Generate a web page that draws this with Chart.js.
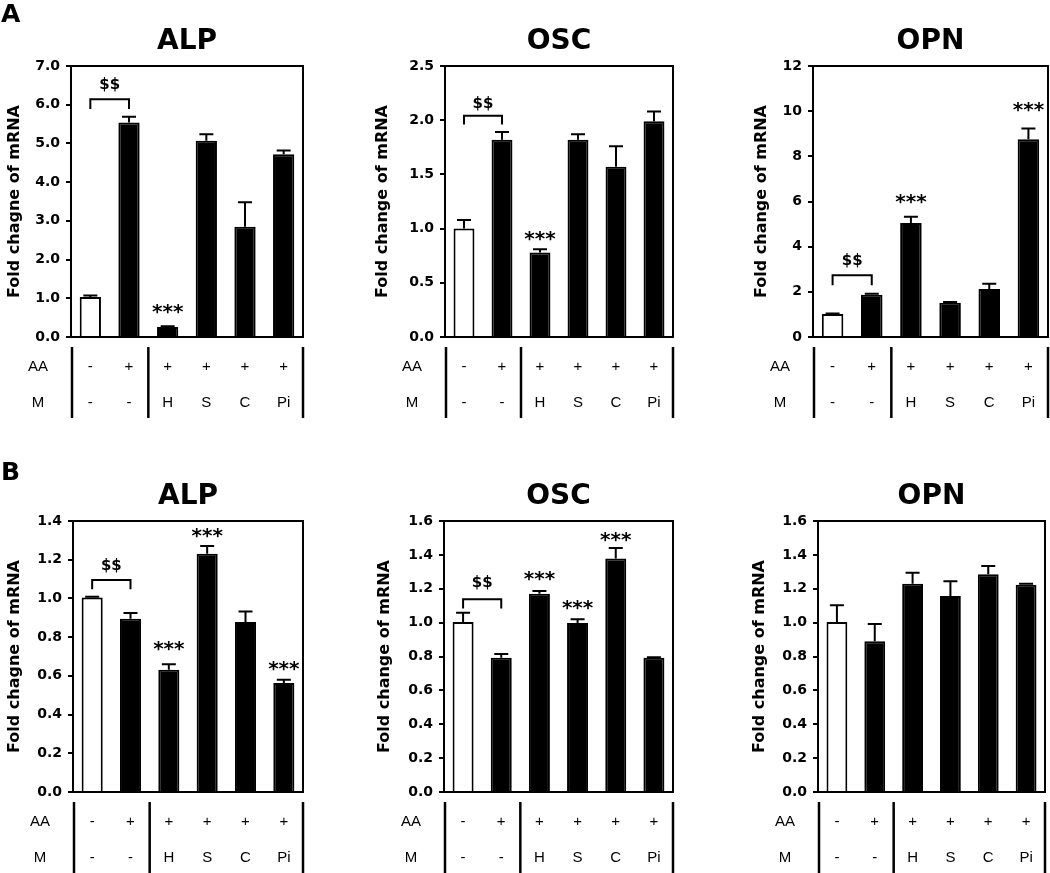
<!DOCTYPE html>
<html><head><meta charset="utf-8">
<script src="https://cdn.jsdelivr.net/npm/chart.js@4"></script>
<style>
html,body{margin:0;padding:0;background:#fff;}
body{width:1050px;height:873px;position:relative;overflow:hidden;}
canvas{position:absolute;}
</style></head>
<body>
<script>
// ---------- data ----------
const categories = ['Ctrl', 'AA', 'AA+H', 'AA+S', 'AA+C', 'AA+Pi'];
const aaLabels = ['-', '+', '+', '+', '+', '+'];
const mLabels = ['-', '-', 'H', 'S', 'C', 'Pi'];
const rowNames = ['AA', 'M'];
const panelLetters = ['A', 'B'];
const geneTitles = ['ALP', 'OSC', 'OPN'];
const yTitleALP = 'Fold chagne of mRNA';
const yTitleOther = 'Fold change of mRNA';

// Panel A
const alpA = [1.03, 5.54, 0.26, 5.07, 2.85, 4.72];
const alpAErr = [0.04, 0.15, 0.02, 0.17, 0.63, 0.10];
const oscA = [1.00, 1.82, 0.78, 1.82, 1.57, 1.99];
const oscAErr = [0.08, 0.07, 0.03, 0.05, 0.19, 0.09];
const opnA = [1.02, 1.87, 5.05, 1.52, 2.12, 8.76];
const opnAErr = [0.02, 0.04, 0.28, 0.03, 0.24, 0.47];
// Panel B
const alpB = [1.005, 0.895, 0.632, 1.231, 0.878, 0.563];
const alpBErr = [0.004, 0.030, 0.028, 0.040, 0.055, 0.017];
const oscB = [1.004, 0.793, 1.171, 0.998, 1.378, 0.793];
const oscBErr = [0.055, 0.022, 0.016, 0.022, 0.063, 0.003];
const opnB = [1.004, 0.890, 1.230, 1.157, 1.285, 1.224];
const opnBErr = [0.098, 0.102, 0.065, 0.087, 0.050, 0.005];

// axis ranges [max, step, decimals]
const axisA = [[7, 1, 1], [2.5, 0.5, 1], [12, 2, 0]];
const axisB = [[1.4, 0.2, 1], [1.6, 0.2, 1], [1.6, 0.2, 1]];

// $$ brackets: [bracket level, leg bottom, label centre] in data units (between bars 0 and 1)
const bracketsA = [[6.14, 5.89, 6.53], [2.04, 1.96, 2.16], [2.73, 2.29, 3.43]];
const bracketsB = [[1.095, 1.047, 1.172], [1.138, 1.084, 1.241], null];
// *** marks: [bar index, centre value]
const starsA = [[[2, 0.69]], [[2, 0.916]], [[2, 6.04], [5, 10.13]]];
const starsB = [[[2, 0.747], [3, 1.331], [5, 0.644]], [[2, 1.265], [3, 1.098], [4, 1.494]], []];

// ---------- layout (pixels) ----------
const panels = [
  {x:0,   y:0,   w:350, h:440, L:71,  R:303, T:66, B:337, yOff:56, row:0, col:0, values:alpA, errs:alpAErr, axis:axisA[0], br:bracketsA[0], stars:starsA[0], yt:yTitleALP},
  {x:350, y:0,   w:350, h:440, L:95,  R:323, T:66, B:337, yOff:62, row:0, col:1, values:oscA, errs:oscAErr, axis:axisA[1], br:bracketsA[1], stars:starsA[1], yt:yTitleOther},
  {x:700, y:0,   w:350, h:440, L:113, R:348, T:66, B:337, yOff:51, row:0, col:2, values:opnA, errs:opnAErr, axis:axisA[2], br:bracketsA[2], stars:starsA[2], yt:yTitleOther},
  {x:0,   y:440, w:350, h:433, L:73,  R:303, T:81, B:352, yOff:58, row:1, col:0, values:alpB, errs:alpBErr, axis:axisB[0], br:bracketsB[0], stars:starsB[0], yt:yTitleALP},
  {x:350, y:440, w:350, h:433, L:94,  R:323, T:81, B:352, yOff:59, row:1, col:1, values:oscB, errs:oscBErr, axis:axisB[1], br:bracketsB[1], stars:starsB[1], yt:yTitleOther},
  {x:700, y:440, w:350, h:433, L:118, R:345, T:81, B:352, yOff:58, row:1, col:2, values:opnB, errs:opnBErr, axis:axisB[2], br:bracketsB[2], stars:starsB[2], yt:yTitleOther}
];

const BOLD = '"DejaVu Sans", sans-serif';
const REG = '"Liberation Sans", Arial, sans-serif';

function makePlugin(p) {
  return {
    id: 'figDecor',
    afterDatasetsDraw(chart) {
      const ctx = chart.ctx, ys = chart.scales.y, meta = chart.getDatasetMeta(0);
      ctx.save();
      ctx.strokeStyle = '#000'; ctx.lineWidth = 2;
      meta.data.forEach((bar, i) => {
        const yt = ys.getPixelForValue(p.values[i] + p.errs[i]);
        ctx.beginPath();
        ctx.moveTo(bar.x, bar.y); ctx.lineTo(bar.x, yt);
        ctx.moveTo(bar.x - 7, yt); ctx.lineTo(bar.x + 7, yt);
        ctx.stroke();
      });
      ctx.restore();
    },
    afterDraw(chart) {
      const ctx = chart.ctx, ca = chart.chartArea, ys = chart.scales.y, meta = chart.getDatasetMeta(0);
      ctx.save();
      ctx.fillStyle = '#000'; ctx.strokeStyle = '#000';
      // frame
      ctx.lineWidth = 2;
      ctx.strokeRect(ca.left, ca.top, ca.right - ca.left, ca.bottom - ca.top);
      // panel letter
      if (p.col === 0) {
        ctx.font = 'bold 25px ' + BOLD; ctx.textAlign = 'left'; ctx.textBaseline = 'alphabetic';
        ctx.fillText(panelLetters[p.row], 1, p.row === 0 ? 22 : 40);
      }
      // title
      ctx.font = 'bold 28px ' + BOLD; ctx.textAlign = 'center'; ctx.textBaseline = 'alphabetic';
      ctx.fillText(geneTitles[p.col], (ca.left + ca.right) / 2, ca.top - 17);
      // y-axis title
      ctx.save();
      ctx.translate(ca.left - p.yOff, (ca.top + ca.bottom) / 2);
      ctx.rotate(-Math.PI / 2);
      ctx.font = 'bold 16px ' + BOLD; ctx.textAlign = 'center'; ctx.textBaseline = 'middle';
      ctx.fillText(p.yt, 0, 0);
      ctx.restore();
      // bracket and $$
      if (p.br) {
        const x0 = meta.data[0].x, x1 = meta.data[1].x;
        const yb = ys.getPixelForValue(p.br[0]), yl = ys.getPixelForValue(p.br[1]);
        ctx.lineWidth = 2;
        ctx.beginPath();
        ctx.moveTo(x0, yl); ctx.lineTo(x0, yb); ctx.lineTo(x1, yb); ctx.lineTo(x1, yl);
        ctx.stroke();
        ctx.font = 'bold 15px ' + BOLD; ctx.textAlign = 'center'; ctx.textBaseline = 'alphabetic';
        ctx.fillText('$$', (x0 + x1) / 2, ys.getPixelForValue(p.br[2]) + 5);
      }
      // stars
      ctx.font = 'bold 20px ' + BOLD; ctx.textAlign = 'center'; ctx.textBaseline = 'alphabetic';
      p.stars.forEach(s => {
        ctx.fillText('***', meta.data[s[0]].x, ys.getPixelForValue(s[1]) + 7.5);
      });
      // table
      const catW = (ca.right - ca.left) / categories.length;
      const t0 = ca.bottom + 10, t1 = ca.bottom + 81;
      ctx.lineWidth = 2.5;
      [ca.left + 1, ca.left + 2 * catW, ca.right].forEach(x => {
        ctx.beginPath(); ctx.moveTo(x, t0); ctx.lineTo(x, t1); ctx.stroke();
      });
      ctx.font = '15px ' + REG; ctx.textAlign = 'center'; ctx.textBaseline = 'middle';
      const rowY = [ca.bottom + 30, ca.bottom + 66];
      ctx.fillText(rowNames[0], ca.left - 33, rowY[0]);
      ctx.fillText(rowNames[1], ca.left - 33, rowY[1]);
      meta.data.forEach((bar, i) => {
        ctx.fillText(aaLabels[i], bar.x, rowY[0]);
        ctx.fillText(mLabels[i], bar.x, rowY[1]);
      });
      ctx.restore();
    }
  };
}

panels.forEach(p => {
  const cv = document.createElement('canvas');
  cv.width = p.w; cv.height = p.h;
  cv.style.left = p.x + 'px'; cv.style.top = p.y + 'px';
  cv.style.width = p.w + 'px'; cv.style.height = p.h + 'px';
  document.body.appendChild(cv);
  const [max, step, dec] = p.axis;
  new Chart(cv, {
    type: 'bar',
    data: {
      labels: categories,
      datasets: [{
        data: p.values,
        backgroundColor: p.values.map((v, i) => i === 0 ? '#ffffff' : '#000000'),
        borderColor: '#000000',
        borderWidth: 2,
        borderSkipped: 'bottom',
        barPercentage: 0.55,
        categoryPercentage: 1
      }]
    },
    options: {
      responsive: false,
      animation: false,
      devicePixelRatio: 1,
      layout: { padding: { top: p.T, bottom: p.h - p.B, left: 0, right: p.w - p.R } },
      plugins: { legend: { display: false }, tooltip: { enabled: false }, title: { display: false } },
      scales: {
        x: { display: false },
        y: {
          min: 0, max: max,
          afterFit: s => { s.width = p.L; },
          ticks: {
            stepSize: step,
            color: '#000',
            padding: 6,
            font: { family: BOLD, weight: 'bold', size: 14 },
            callback: v => Number(v).toFixed(dec)
          },
          grid: { drawOnChartArea: false, drawTicks: true, tickLength: 5, color: '#000', lineWidth: 2 },
          border: { display: false }
        }
      }
    },
    plugins: [makePlugin(p)]
  });
});
</script>
</body></html>
